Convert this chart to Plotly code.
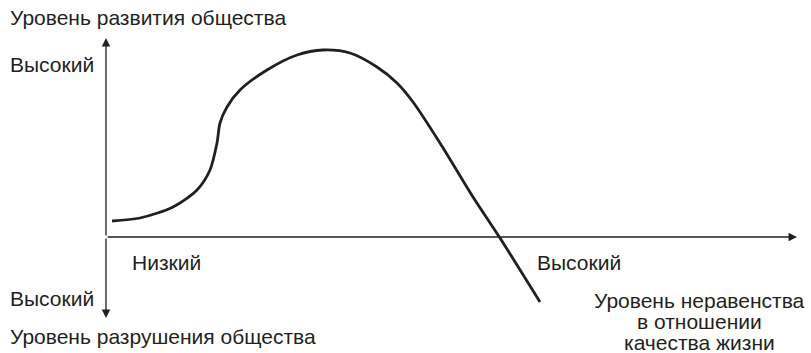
import plotly.graph_objects as go

# curve of society development vs inequality (drawing units: x to the right, y downward)
curve_x = [112, 140, 173, 197, 210, 217, 220, 227, 240, 267, 297, 323, 350, 377, 397, 413, 440, 473, 500, 540]
curve_y = [221, 218, 207, 190, 170, 143, 123, 107, 90, 70, 55, 50, 53, 67, 83, 102, 143, 197, 238, 302]

# axes: origin and arrow tips
origin = (106, 237)
x_tip = 797
y_up_tip = 38
y_down_tip = 318

labels = [
    ("Уровень развития общества", 8, 17, "left"),
    ("Высокий", 8, 64, "left"),
    ("Низкий", 130, 262, "left"),
    ("Высокий", 8, 298, "left"),
    ("Уровень разрушения общества", 8, 336, "left"),
    ("Высокий", 535, 262, "left"),
    ("Уровень неравенства", 699, 300, "center"),
    ("в отношении", 699, 321, "center"),
    ("качества жизни", 699, 342, "center"),
]

INK = "#231f20"

fig = go.Figure()
fig.add_trace(go.Scatter(
    x=curve_x, y=curve_y, mode="lines",
    line=dict(color=INK, width=2.8, shape="spline", smoothing=0.8),
    hoverinfo="skip", showlegend=False,
))

arrows = [
    (x_tip, origin[1], origin[0], origin[1]),
    (origin[0], y_up_tip, origin[0], origin[1]),
    (origin[0], y_down_tip, origin[0], origin[1]),
]
for tx, ty, fx, fy in arrows:
    fig.add_annotation(
        x=tx, y=ty, ax=fx, ay=fy, xref="x", yref="y", axref="x", ayref="y",
        showarrow=True, arrowhead=2, arrowsize=1.3, arrowwidth=1.3, arrowcolor=INK, text="",
    )

for text, x, y, anchor in labels:
    fig.add_annotation(
        x=x, y=y, xref="x", yref="y", text=text, showarrow=False,
        xanchor=anchor, yanchor="middle", align="center",
        font=dict(family="Liberation Sans, Arial", size=21, color=INK),
    )

fig.update_xaxes(range=[0, 811], visible=False)
fig.update_yaxes(range=[353, 0], visible=False)
fig.update_layout(
    width=811, height=353, margin=dict(l=0, r=0, t=0, b=0),
    plot_bgcolor="white", paper_bgcolor="white",
)
fig.write_html(
    "out.html",
    config={"displayModeBar": False},
    post_script="document.body.style.margin='0';document.body.style.overflow='hidden';",
)
